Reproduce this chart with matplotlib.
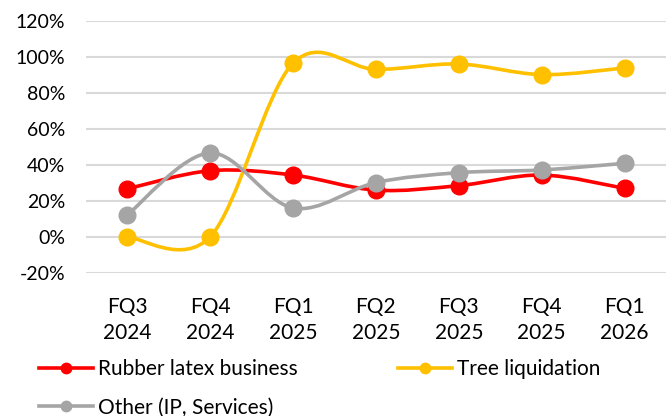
import matplotlib
matplotlib.use("Agg")
import matplotlib.pyplot as plt
from matplotlib.path import Path
from matplotlib.patches import PathPatch
from matplotlib.lines import Line2D
import numpy as np

plt.rcParams['font.family'] = ['Lato', 'DejaVu Sans']

categories = ["FQ3\n2024", "FQ4\n2024", "FQ1\n2025", "FQ2\n2025", "FQ3\n2025", "FQ4\n2025", "FQ1\n2026"]
rubber = [26.7, 36.8, 34.4, 26.0, 28.5, 34.4, 27.0]
tree = [0.0, 0.0, 96.5, 93.1, 96.1, 90.2, 93.9]
other = [12.2, 46.7, 16.1, 30.2, 35.7, 37.2, 40.9]
series_names = ["Rubber latex business", "Tree liquidation", "Other (IP, Services)"]
colors = ["#FF0000", "#FFC000", "#A5A5A5"]
yticks = [-20, 0, 20, 40, 60, 80, 100, 120]

fig = plt.figure(figsize=(6.7, 4.16), dpi=100)
ax = fig.add_axes([0.128, 0.344, 0.866, 0.6055])

def smooth_path(xs, ys):
    pts = np.column_stack([xs, ys]).astype(float)
    n = len(pts)
    verts = [pts[0]]
    codes = [Path.MOVETO]
    for i in range(n - 1):
        p0 = pts[i - 1] if i > 0 else pts[i]
        p1 = pts[i]
        p2 = pts[i + 1]
        p3 = pts[i + 2] if i + 2 < n else pts[i + 1]
        c1 = p1 + (p2 - p0) / 6.0
        c2 = p2 - (p3 - p1) / 6.0
        verts += [c1, c2, p2]
        codes += [Path.CURVE4] * 3
    return Path(verts, codes)

x = np.arange(len(categories))
for vals, c in zip([rubber, tree, other], colors):
    patch = PathPatch(smooth_path(x, vals), facecolor='none', edgecolor=c, lw=2.6,
                      capstyle='round', joinstyle='round', zorder=3)
    ax.add_patch(patch)
    ax.plot(x, vals, linestyle='none', marker='o', markersize=12, color=c, zorder=4)

ax.set_xlim(-0.5, len(categories) - 0.5)
ax.set_ylim(-20, 120)
ax.set_yticks(yticks)
ax.set_yticklabels([f"{v}%" for v in yticks])
ax.set_xticks(x)
ax.set_xticklabels(categories, linespacing=1.4)
ax.grid(axis='y', color='#D9D9D9', lw=1.5)
ax.set_axisbelow(True)
for s in ax.spines.values():
    s.set_visible(False)
ax.tick_params(axis='both', length=0, colors='#000000')
ax.tick_params(axis='y', pad=15, labelsize=14)
ax.tick_params(axis='x', pad=17, labelsize=15)

handles = [Line2D([0], [0], color=c, lw=2.6, marker='o', markersize=7.5) for c in colors]
order = [0, 2, 1]
fig.legend([handles[i] for i in order], [series_names[i] for i in order],
           loc='upper left', bbox_to_anchor=(0.058, 0.136),
           ncol=2, frameon=False, fontsize=15, handlelength=2.6, handletextpad=0.24,
           columnspacing=4.8, labelspacing=0.87, borderaxespad=0, borderpad=0)

fig.savefig("out.png", dpi=100)
